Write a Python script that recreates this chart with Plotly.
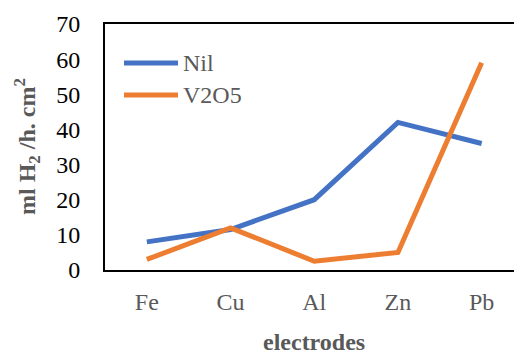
import plotly.graph_objects as go

electrodes = ["Fe", "Cu", "Al", "Zn", "Pb"]
nil_rate = [8, 11.5, 20, 42, 36]
v2o5_rate = [3, 12, 2.5, 5, 59]
y_ticks = [0, 10, 20, 30, 40, 50, 60, 70]

BLUE = "#4472C4"
ORANGE = "#ED7D31"
GREY = "#595959"
SERIF = "Liberation Serif"

fig = go.Figure()
fig.add_trace(go.Scatter(x=electrodes, y=nil_rate, mode="lines", name="Nil",
                         line=dict(color=BLUE, width=5), showlegend=False))
fig.add_trace(go.Scatter(x=electrodes, y=v2o5_rate, mode="lines", name="V2O5",
                         line=dict(color=ORANGE, width=5), showlegend=False))

W, H = 514, 354
L, R, T, B = 105, 0, 24, 84
pw, ph = W - L - R, H - T - B

def px_x(px):
    return (px - L) / pw

def px_y(py):
    return (H - B - py) / ph

# hand-built legend: line sample + label
legend_items = [("Nil", BLUE, 63), ("V2O5", ORANGE, 95)]
for label, color, yy in legend_items:
    fig.add_shape(type="line", xref="paper", yref="paper",
                  x0=px_x(124), x1=px_x(178), y0=px_y(yy), y1=px_y(yy),
                  line=dict(color=color, width=5))
    fig.add_annotation(xref="paper", yref="paper", x=px_x(181), y=px_y(yy),
                       xanchor="left", yanchor="middle", showarrow=False,
                       text=label, font=dict(family=SERIF, size=24, color=GREY))

# axis titles
fig.add_annotation(xref="x", yref="paper", x=2, y=0, yshift=-72,
                   xanchor="center", yanchor="middle", showarrow=False,
                   text="<b>electrodes</b>", font=dict(family=SERIF, size=24, color=GREY))
fig.add_annotation(xref="paper", yref="paper", x=0, xshift=-78, y=0.5,
                   xanchor="center", yanchor="middle", showarrow=False, textangle=-90,
                   text="<b>ml H<sub>2</sub> /h. cm<sup>2</sup></b>",
                   font=dict(family=SERIF, size=24, color=GREY))

fig.update_xaxes(type="category", range=[-0.5, -0.5 + pw / 83.7],
                 showline=True, linecolor="black", linewidth=2, mirror=True,
                 showgrid=False, zeroline=False, ticks="",
                 ticklabelstandoff=9,
                 tickfont=dict(family=SERIF, size=24, color=GREY))
fig.update_yaxes(range=[0, 70], tickvals=y_ticks,
                 showline=True, linecolor="black", linewidth=2, mirror=False,
                 showgrid=False, zeroline=False, ticks="",
                 ticklabelstandoff=18,
                 tickfont=dict(family=SERIF, size=24, color="black"))

fig.update_layout(width=W, height=H, margin=dict(l=L, r=R, t=T, b=B),
                  plot_bgcolor="white", paper_bgcolor="white", showlegend=False,
                  font=dict(family=SERIF))

fig.write_html("out.html")
